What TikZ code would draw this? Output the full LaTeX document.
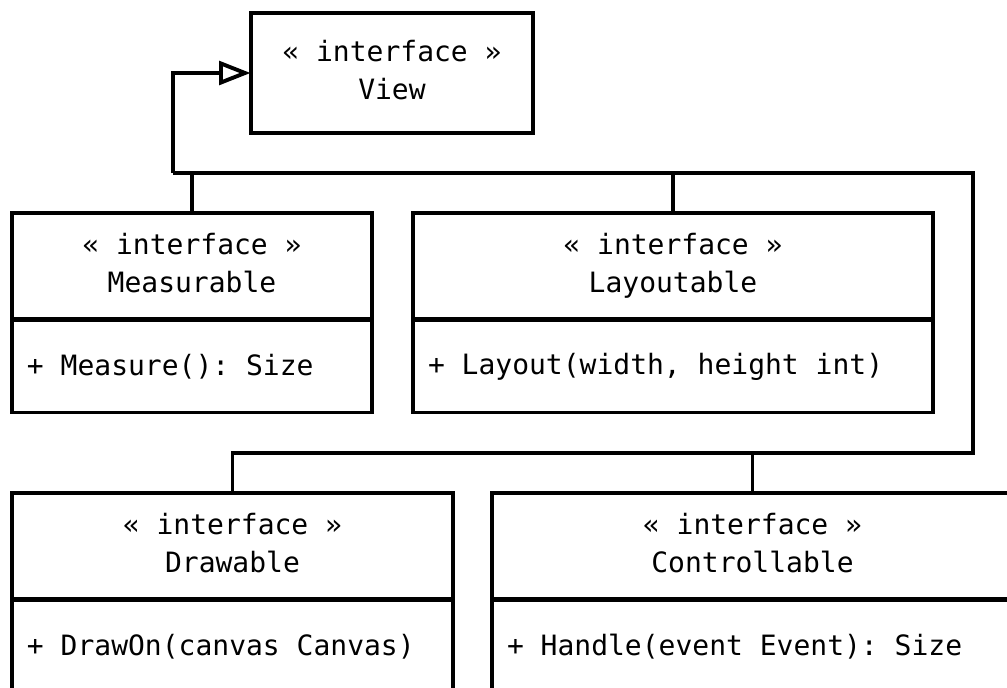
\documentclass[tikz,border=0pt]{standalone}
\usepackage{fontspec}
\newfontfamily\umlmono[WordSpace={1,0,0}]{DejaVu Sans Mono}
\newcommand{\fullspaces}{\frenchspacing\spaceskip=0pt\xspaceskip=0pt\relax}
\begin{document}
\begin{tikzpicture}[x=1pt,y=-1pt,line width=3.9pt,
  hdr/.style={draw,rectangle,align=center,inner sep=0pt,outer sep=0pt,font=\umlmono\fontsize{28}{38}\selectfont},
  bdy/.style={draw,rectangle,align=left,inner xsep=15pt,inner ysep=0pt,outer sep=0pt,font=\umlmono\fontsize{28}{38}\selectfont\fullspaces},
  hollowtip/.style={draw,fill=white,line join=miter,miter limit=20}]
\useasboundingbox (0,0) rectangle (1007,688);
% View
\node[hdr,minimum width=282pt,minimum height=120pt] (view) at (392,73) {\strut« interface »\\\strut View};
% Measurable
\node[hdr,minimum width=360pt,minimum height=106pt] (meas) at (192,266) {\strut« interface »\\\strut Measurable};
\node[bdy,text width=330pt,minimum height=92pt,anchor=north] (measb) at ([yshift=-1.5pt]meas.south) {\fullspaces + Measure(): Size};
% Layoutable
\node[hdr,minimum width=520pt,minimum height=106pt] (lay) at (673,266) {\strut« interface »\\\strut Layoutable};
\node[bdy,text width=490pt,minimum height=92pt,anchor=north] (layb) at ([yshift=-1.5pt]lay.south) {\fullspaces + Layout(width, height int)};
% Drawable
\node[hdr,minimum width=441pt,minimum height=106pt] (drw) at (232.5,546) {\strut« interface »\\\strut Drawable};
\node[bdy,text width=411pt,minimum height=92pt,anchor=north] (drwb) at ([yshift=-1.5pt]drw.south) {\fullspaces + DrawOn(canvas Canvas)};
% Controllable
\node[hdr,minimum width=521pt,minimum height=106pt] (ctl) at (752.5,546) {\strut« interface »\\\strut Controllable};
\node[bdy,text width=491pt,minimum height=92pt,anchor=north] (ctlb) at ([yshift=-1.5pt]ctl.south) {\fullspaces + Handle(event Event): Size};
% connectors
\coordinate (b1) at (173,173);
\coordinate (br) at (973,173);
\coordinate (bb) at (973,453);
\coordinate (tb) at (221,73);
\coordinate (tt) at ([xshift=-6pt]view.west);
\draw (b1) |- (tb);
\draw[hollowtip] (tt) -- ([yshift=9.5pt]tb) -- ([yshift=-9.5pt]tb) -- cycle;
\draw (b1) -- (br) -- (bb) -- (bb -| drw.north) -- (drw.north);
\draw (meas.north) -- (meas.north |- b1);
\draw (lay.north) -- (lay.north |- b1);
\draw (ctl.north) -- (ctl.north |- bb);
\end{tikzpicture}
\end{document}
